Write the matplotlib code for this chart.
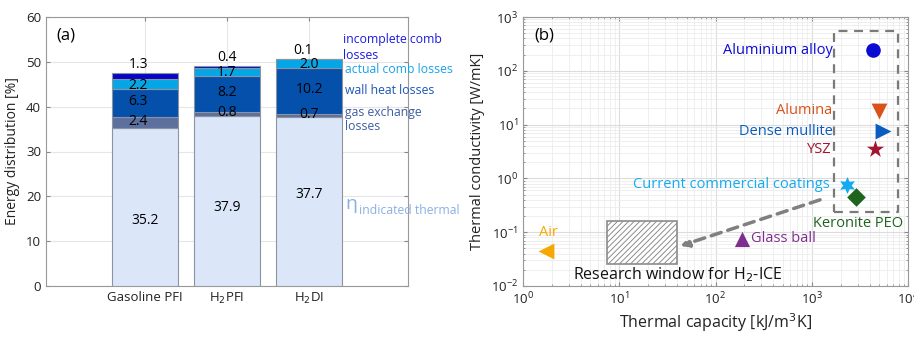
import matplotlib
matplotlib.use("Agg")
import matplotlib.pyplot as plt
import numpy as np
from matplotlib.patches import Rectangle

plt.rcParams['font.family'] = ['Open Sans', 'DejaVu Sans']
plt.rcParams['hatch.color'] = "#a0a0a0"
plt.rcParams['hatch.linewidth'] = 0.7

# ---------------- data (a) ----------------
categories = ["Gasoline PFI", "H$_2$PFI", "H$_2$DI"]
thermal = [35.2, 37.9, 37.7]
gas_exchange = [2.4, 0.8, 0.7]
wall_heat = [6.3, 8.2, 10.2]
actual_comb = [2.2, 1.7, 2.0]
incomplete_comb = [1.3, 0.4, 0.1]
y_ticks_a = [0, 10, 20, 30, 40, 50, 60]

# ---------------- data (b) ----------------
materials = ["Aluminium alloy", "Alumina", "Dense mullite", "YSZ",
             "Current commercial coatings", "Keronite PEO", "Glass ball", "Air"]
capacity = [4300, 5000, 5500, 4550, 2300, 2900, 187, 1.72]
conductivity = [240, 18, 7.6, 3.5, 0.75, 0.46, 0.075, 0.045]
markers = ["o", "v", ">", "*", (6, 1, 0), "D", "^", "<"]
colors_b = ["#0a0ad2", "#d95319", "#0a5cc0", "#a2142f", "#14aaf0", "#1e641e", "#7e2f8e", "#f5a800"]
dashed_box = (1700, 7800, 0.24, 550)
research_box = (7.5, 40, 0.0253, 0.164)
arrow_from = (1220, 0.40)
arrow_to = (43, 0.0555)

fig = plt.figure(figsize=(9.14, 3.38), dpi=100)

# ================= panel (a) =================
axa = fig.add_axes([46/914, 1-286/338, 362/914, 269/338])
x = np.arange(1, len(categories) + 1)
w = 0.8
seg_colors = ["#dbe6f8", "#5d6f9d", "#0450ab", "#04a6e6", "#0606c4"]
series = [thermal, gas_exchange, wall_heat, actual_comb, incomplete_comb]
bottom = np.zeros(len(x))
for vals, col in zip(series, seg_colors):
    axa.bar(x, vals, w, bottom=bottom, color=col, edgecolor="#8a94a3", linewidth=0.8, zorder=3)
    bottom = bottom + np.array(vals)

axa.set_xlim(-0.2, 4.2)
axa.set_ylim(0, 60)
axa.set_yticks(y_ticks_a)
axa.set_xticks(x)
axa.set_xticklabels(categories, fontsize=9.5)
axa.tick_params(axis='both', direction='in', top=True, right=True, length=3,
                color="#888888", labelsize=9.5, labelcolor="#222222")
axa.grid(True, color="#e6e6e6", linewidth=0.8, zorder=0)
for s in axa.spines.values():
    s.set_color("#999999")
axa.set_ylabel("Energy distribution [%]", fontsize=10, color="#222222", labelpad=4)
axa.text(0.03, 0.96, "(a)", transform=axa.transAxes, fontsize=12, va="top", ha="left")

# value labels
thermal_label_y = [14.7, 17.4, 20.5]
for i in range(len(x)):
    axa.text(x[i], thermal_label_y[i], f"{thermal[i]:.1f}", ha="center", va="center", fontsize=10, zorder=5)
cum = np.array(thermal, dtype=float)
for vals, off in [(gas_exchange, 0.3), (wall_heat, 0.3), (actual_comb, -0.2)]:
    for i in range(len(x)):
        axa.text(x[i] - 0.08 * (i == 0), cum[i] + vals[i] / 2 + off, f"{vals[i]:.1f}", ha="center",
                 va="center", fontsize=10, zorder=5)
    cum = cum + np.array(vals)
for i in range(len(x)):
    axa.text(x[i] - 0.07 * (i != 1), cum[i] + incomplete_comb[i] + 1.9, f"{incomplete_comb[i]:.1f}",
             ha="center", va="center", fontsize=10, zorder=5)

# series labels on the right
lx = 3.41
lfs = 8.8
axa.text(lx, 54.9, "incomplete comb", color="#1c1ce0", fontsize=lfs, va="center", ha="left", clip_on=False)
axa.text(lx, 51.5, "losses", color="#1c1ce0", fontsize=lfs, va="center", ha="left", clip_on=False)
axa.text(lx + 0.02, 48.4, "actual comb losses", color="#1aa2ea", fontsize=lfs, va="center", ha="left", clip_on=False)
axa.text(lx + 0.02, 43.7, "wall heat losses", color="#1e55b8", fontsize=lfs, va="center", ha="left", clip_on=False)
axa.text(lx + 0.03, 38.8, "gas exchange", color="#3d5ea2", fontsize=lfs, va="center", ha="left", clip_on=False)
axa.text(lx + 0.03, 35.5, "losses", color="#3d5ea2", fontsize=lfs, va="center", ha="left", clip_on=False)
axa.text(lx + 0.03, 18.2, "η", color="#8cb0e4", fontsize=14, va="center", ha="left", clip_on=False)
axa.text(lx + 0.2, 16.8, "indicated thermal", color="#8cb0e4", fontsize=lfs, va="center", ha="left", clip_on=False)

# ================= panel (b) =================
axb = fig.add_axes([523/914, 1-286/338, 385/914, 269/338])
axb.set_xscale("log")
axb.set_yscale("log")
axb.set_xlim(1, 1e4)
axb.set_ylim(1e-2, 1e3)
axb.grid(True, which="major", color="#dcdcdc", linewidth=0.8, zorder=0)
axb.grid(True, which="minor", color="#ececec", linewidth=0.6, zorder=0)
axb.tick_params(axis='both', which='both', direction='in', top=True, right=True,
                color="#888888", labelsize=9.5, labelcolor="#222222")
axb.tick_params(axis='both', which='major', length=3)
axb.tick_params(axis='both', which='minor', length=1.5)
for s in axb.spines.values():
    s.set_color("#999999")
axb.set_xlabel("Thermal capacity [kJ/m$^3$K]", fontsize=11.5, color="#222222", labelpad=3)
axb.set_ylabel("Thermal conductivity [W/mK]", fontsize=10.5, color="#222222", labelpad=4)
axb.text(0.03, 0.96, "(b)", transform=axb.transAxes, fontsize=12, va="top", ha="left")

sizes = [110, 130, 130, 170, 150, 90, 120, 130]
for cx, cy, m, c, s in zip(capacity, conductivity, markers, colors_b, sizes):
    axb.scatter(cx, cy, marker=m, s=s, color=c, zorder=5, linewidths=0)

# dashed box
bx0, bx1, by0, by1 = dashed_box
axb.plot([bx0, bx1, bx1, bx0, bx0], [by0, by0, by1, by1, by0], ls=(0, (4, 3)),
         color="#7a7a7a", lw=1.6, zorder=4)
# research window
rx0, rx1, ry0, ry1 = research_box
axb.add_patch(Rectangle((rx0, ry0), rx1 - rx0, ry1 - ry0, facecolor="white",
                        edgecolor="#8c8c8c", hatch="//////", lw=1.2, zorder=4))
axb.annotate("", xy=arrow_to, xytext=arrow_from,
             arrowprops=dict(arrowstyle="-|>", color="#808080", lw=2.5, ls=(0, (3, 2)),
                             mutation_scale=12, shrinkA=0, shrinkB=0), zorder=4)

fs = 10.5
axb.text(1650, 240, "Aluminium alloy", color=colors_b[0], ha="right", va="center", fontsize=fs)
axb.text(1620, 17.9, "Alumina", color=colors_b[1], ha="right", va="center", fontsize=fs)
axb.text(1660, 7.6, "Dense mullite", color=colors_b[2], ha="right", va="center", fontsize=fs)
axb.text(1620, 3.5, "YSZ", color=colors_b[3], ha="right", va="center", fontsize=fs)
axb.text(1550, 0.76, "Current commercial coatings", color=colors_b[4], ha="right", va="center", fontsize=fs)
axb.text(3000, 0.146, "Keronite PEO", color=colors_b[5], ha="center", va="center", fontsize=fs)
axb.text(235, 0.078, "Glass ball", color=colors_b[6], ha="left", va="center", fontsize=fs)
axb.text(1.45, 0.099, "Air", color=colors_b[7], ha="left", va="center", fontsize=fs)
axb.text(3.3, 0.0165, "Research window for H$_2$-ICE", color="#111111", ha="left", va="center", fontsize=11.5)

fig.savefig("out.png", dpi=100)
